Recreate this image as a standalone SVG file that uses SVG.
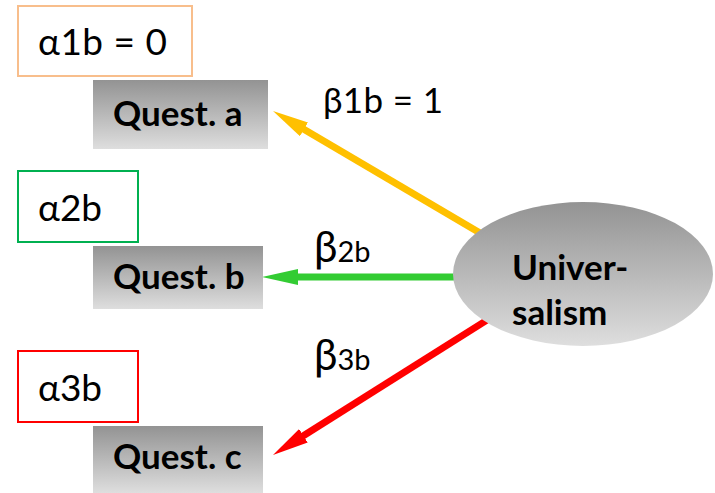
<svg xmlns="http://www.w3.org/2000/svg" width="715" height="493" viewBox="0 0 715 493">
<style>
.alpha{fill:#fff;stroke-width:2}
.q{fill:url(#g)}
.qt{font-family:Lato,"Open Sans","Liberation Sans",sans-serif;font-weight:bold;font-size:35px;fill:#000}
.at{font-family:Lato,"Open Sans","Liberation Sans",sans-serif;font-size:37px;fill:#000}
.bt{font-family:Lato,"Open Sans","Liberation Sans",sans-serif;font-size:35px;fill:#000}
.big{font-size:42px}
.sub{font-size:29px}
.c{fill:none;stroke-width:7}
</style>
<defs>
<linearGradient id="g" x1="0" y1="0" x2="0" y2="1">
<stop offset="0" stop-color="#939393"/>
<stop offset="1" stop-color="#dedede"/>
</linearGradient>
<marker id="my" markerUnits="userSpaceOnUse" markerWidth="36" markerHeight="16" viewBox="0 0 36 16" refX="16" refY="8" orient="auto"><path d="M0,0 L36,8 L0,16 z" fill="#FFC000"/></marker>
<marker id="mg" markerUnits="userSpaceOnUse" markerWidth="36" markerHeight="16" viewBox="0 0 36 16" refX="16" refY="8" orient="auto"><path d="M0,0 L36,8 L0,16 z" fill="#33CC33"/></marker>
<marker id="mr" markerUnits="userSpaceOnUse" markerWidth="36" markerHeight="16" viewBox="0 0 36 16" refX="16" refY="8" orient="auto"><path d="M0,0 L36,8 L0,16 z" fill="#FF0000"/></marker>
</defs>
<rect width="715" height="493" fill="#fff"/>
<g id="connectors">
<line class="c" x1="500" y1="244.8" x2="290.2" y2="121.2" stroke="#FFC000" marker-end="url(#my)"/>
<line class="c" x1="500" y1="277" x2="282" y2="277" stroke="#33CC33" marker-end="url(#mg)"/>
<line class="c" x1="500" y1="311.9" x2="289.9" y2="444.3" stroke="#FF0000" marker-end="url(#mr)"/>
</g>
<g id="alpha1"><rect class="alpha" x="18" y="6" width="174" height="70" stroke="#F8BE8C"/><text class="at" x="38" y="55" textLength="129" lengthAdjust="spacing">α1b = 0</text></g>
<g id="questA"><rect class="q" x="93" y="80" width="175" height="69"/><text class="qt" x="113" y="126">Quest. a</text></g>
<g id="alpha2"><rect class="alpha" x="18" y="171" width="120" height="71" stroke="#00B050"/><text class="at" x="38" y="221">α2b</text></g>
<g id="questB"><rect class="q" x="93" y="246" width="170" height="63"/><text class="qt" x="113" y="289">Quest. b</text></g>
<g id="alpha3"><rect class="alpha" x="18" y="351" width="120" height="71" stroke="#FF0000"/><text class="at" x="38" y="401">α3b</text></g>
<g id="questC"><rect class="q" x="93" y="426" width="170" height="67"/><text class="qt" x="113" y="469">Quest. c</text></g>
<g id="beta1"><text class="bt" x="323" y="113" textLength="120" lengthAdjust="spacing">β1b = 1</text></g>
<g id="beta2"><text class="bt" x="314" y="262"><tspan class="big">β</tspan><tspan class="sub">2b</tspan></text></g>
<g id="beta3"><text class="bt" x="314" y="370"><tspan class="big">β</tspan><tspan class="sub">3b</tspan></text></g>
<g id="universalism"><ellipse cx="583" cy="274" rx="130" ry="72" fill="url(#g)"/><text class="qt" x="512" y="280">Univer-</text><text class="qt" x="512" y="325">salism</text></g>
</svg>
